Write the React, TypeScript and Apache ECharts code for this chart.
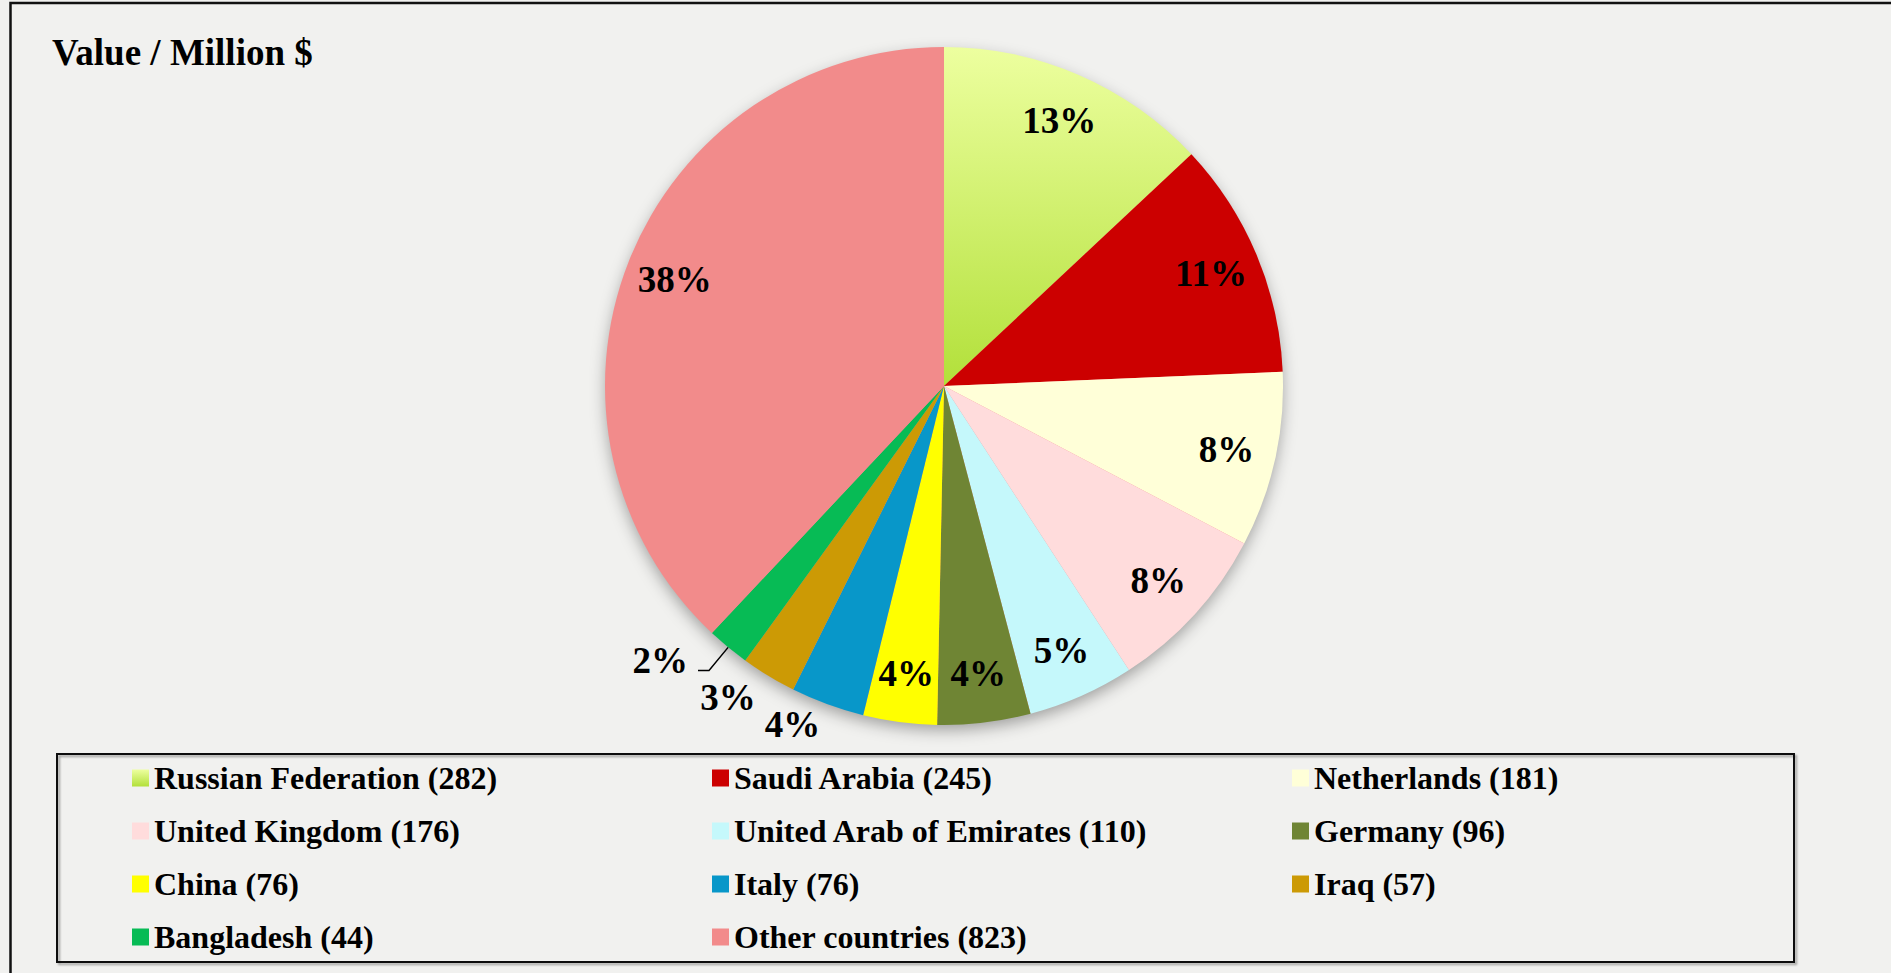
import React, { useEffect, useRef } from 'react';
import * as echarts from 'echarts';

// ---- data ----
const categories = [
  'Russian Federation',
  'Saudi Arabia',
  'Netherlands',
  'United Kingdom',
  'United Arab of Emirates',
  'Germany',
  'China',
  'Italy',
  'Iraq',
  'Bangladesh',
  'Other countries',
];
const values = [282, 245, 181, 176, 110, 96, 76, 76, 57, 44, 823];
const titleText = 'Value / Million $';

// ---- styles ----
const FONT = "'Liberation Serif', 'Times New Roman', serif";
const sliceColors: any[] = [
  new echarts.graphic.LinearGradient(0, 0, 0, 1, [
    { offset: 0, color: '#edff9f' },
    { offset: 1, color: '#b2e03a' },
  ]),
  '#cc0000',
  '#ffffd8',
  '#ffdcdc',
  '#c5f8fb',
  '#6f8534',
  '#ffff00',
  '#0897c9',
  '#cc9a05',
  '#07bb55',
  '#f28b8b',
];
// outside-label settings for the small slices
const outsideLabelStyle: Record<string, any> = {
  Italy: { len: 21, len2: 0, dist: 0, line: false, raise: false },
  Iraq: { len: 25, len2: 0, dist: 0, line: false, raise: false },
  Bangladesh: { len: 30, len2: 11, dist: 10, line: true, raise: true },
};

const CENTER = [944, 386];
const R = 339;

const pct = (p: any) => `${Math.round(p.percent)}%`;

export default function App() {
  const ref = useRef<HTMLDivElement>(null);
  useEffect(() => {
    if (!ref.current) return;
    const chart = echarts.init(ref.current, undefined, { renderer: 'svg' });

    const mainData = categories.map((name, i) => ({
      name,
      value: values[i],
      itemStyle: { color: sliceColors[i] },
    }));

    const labelData = categories.map((name, i) => {
      const o = outsideLabelStyle[name];
      if (!o) return { name, value: values[i] };
      return {
        name,
        value: values[i],
        label: {
          position: 'outside',
          distanceToLabelLine: o.dist,
          formatter: o.raise ? (p: any) => `{t|${pct(p)}}\n{gap| }` : pct,
        },
        labelLine: {
          show: o.line,
          length: o.len,
          length2: o.len2,
          lineStyle: { color: '#000', width: 1.5 },
        },
      };
    });

    const option: any = {
      animation: false,
      backgroundColor: '#f1f1ef',
      title: {
        text: titleText,
        left: 52,
        top: 34,
        padding: 0,
        textStyle: { fontFamily: FONT, fontWeight: 'bold', fontSize: 37, color: '#000' },
      },
      legend: {
        data: categories,
        left: 132,
        top: 758,
        width: 1740,
        orient: 'horizontal',
        padding: 0,
        icon: 'rect',
        itemWidth: 17,
        itemHeight: 17,
        itemGap: 13,
        selectedMode: false,
        formatter: (name: string) => `${name} (${values[categories.indexOf(name)]})`,
        textStyle: {
          fontFamily: FONT,
          fontWeight: 'bold',
          fontSize: 32,
          color: '#000',
          width: 545,
          lineHeight: 40,
          overflow: 'truncate',
        },
      },
      graphic: [
        {
          type: 'rect',
          silent: true,
          shape: { x: 10.5, y: 3, width: 1900, height: 1000 },
          style: { fill: 'none', stroke: '#111', lineWidth: 2.5 },
        },
        {
          type: 'rect',
          silent: true,
          shape: { x: 57, y: 754, width: 1737, height: 208 },
          style: {
            fill: 'none',
            stroke: '#111',
            lineWidth: 2,
            shadowColor: 'rgba(0,0,0,0.35)',
            shadowBlur: 2,
            shadowOffsetX: 2,
            shadowOffsetY: 2,
          },
        },
      ],
      series: [
        {
          type: 'pie',
          center: CENTER,
          radius: [0, R - 1],
          silent: true,
          z: 1,
          label: { show: false },
          labelLine: { show: false },
          data: [
            {
              value: 1,
              name: '',
              itemStyle: {
                color: '#f28b8b',
                shadowBlur: 16,
                shadowOffsetY: 6,
                shadowColor: 'rgba(0,0,0,0.35)',
              },
            },
          ],
        },
        {
          type: 'pie',
          center: CENTER,
          radius: [0, R],
          startAngle: 90,
          clockwise: true,
          silent: true,
          z: 2,
          avoidLabelOverlap: false,
          label: { show: false },
          labelLine: { show: false },
          data: mainData,
        },
        {
          type: 'pie',
          center: CENTER,
          radius: [Math.round(R * 0.69), R],
          startAngle: 90,
          clockwise: true,
          silent: true,
          z: 3,
          avoidLabelOverlap: false,
          itemStyle: { color: 'rgba(0,0,0,0)' },
          label: {
            show: true,
            position: 'inside',
            formatter: pct,
            fontFamily: FONT,
            fontWeight: 'bold',
            fontSize: 37,
            color: '#000',
            rich: {
              t: { fontFamily: FONT, fontWeight: 'bold', fontSize: 37, color: '#000' },
              gap: { fontSize: 18, lineHeight: 20, height: 20 },
            },
          },
          labelLine: { show: false },
          data: labelData,
        },
      ],
    };
    chart.setOption(option);
    return () => chart.dispose();
  }, []);

  return (
    <div
      ref={ref}
      style={{ position: 'fixed', left: 0, top: 0, width: 1891, height: 973 }}
    />
  );
}
